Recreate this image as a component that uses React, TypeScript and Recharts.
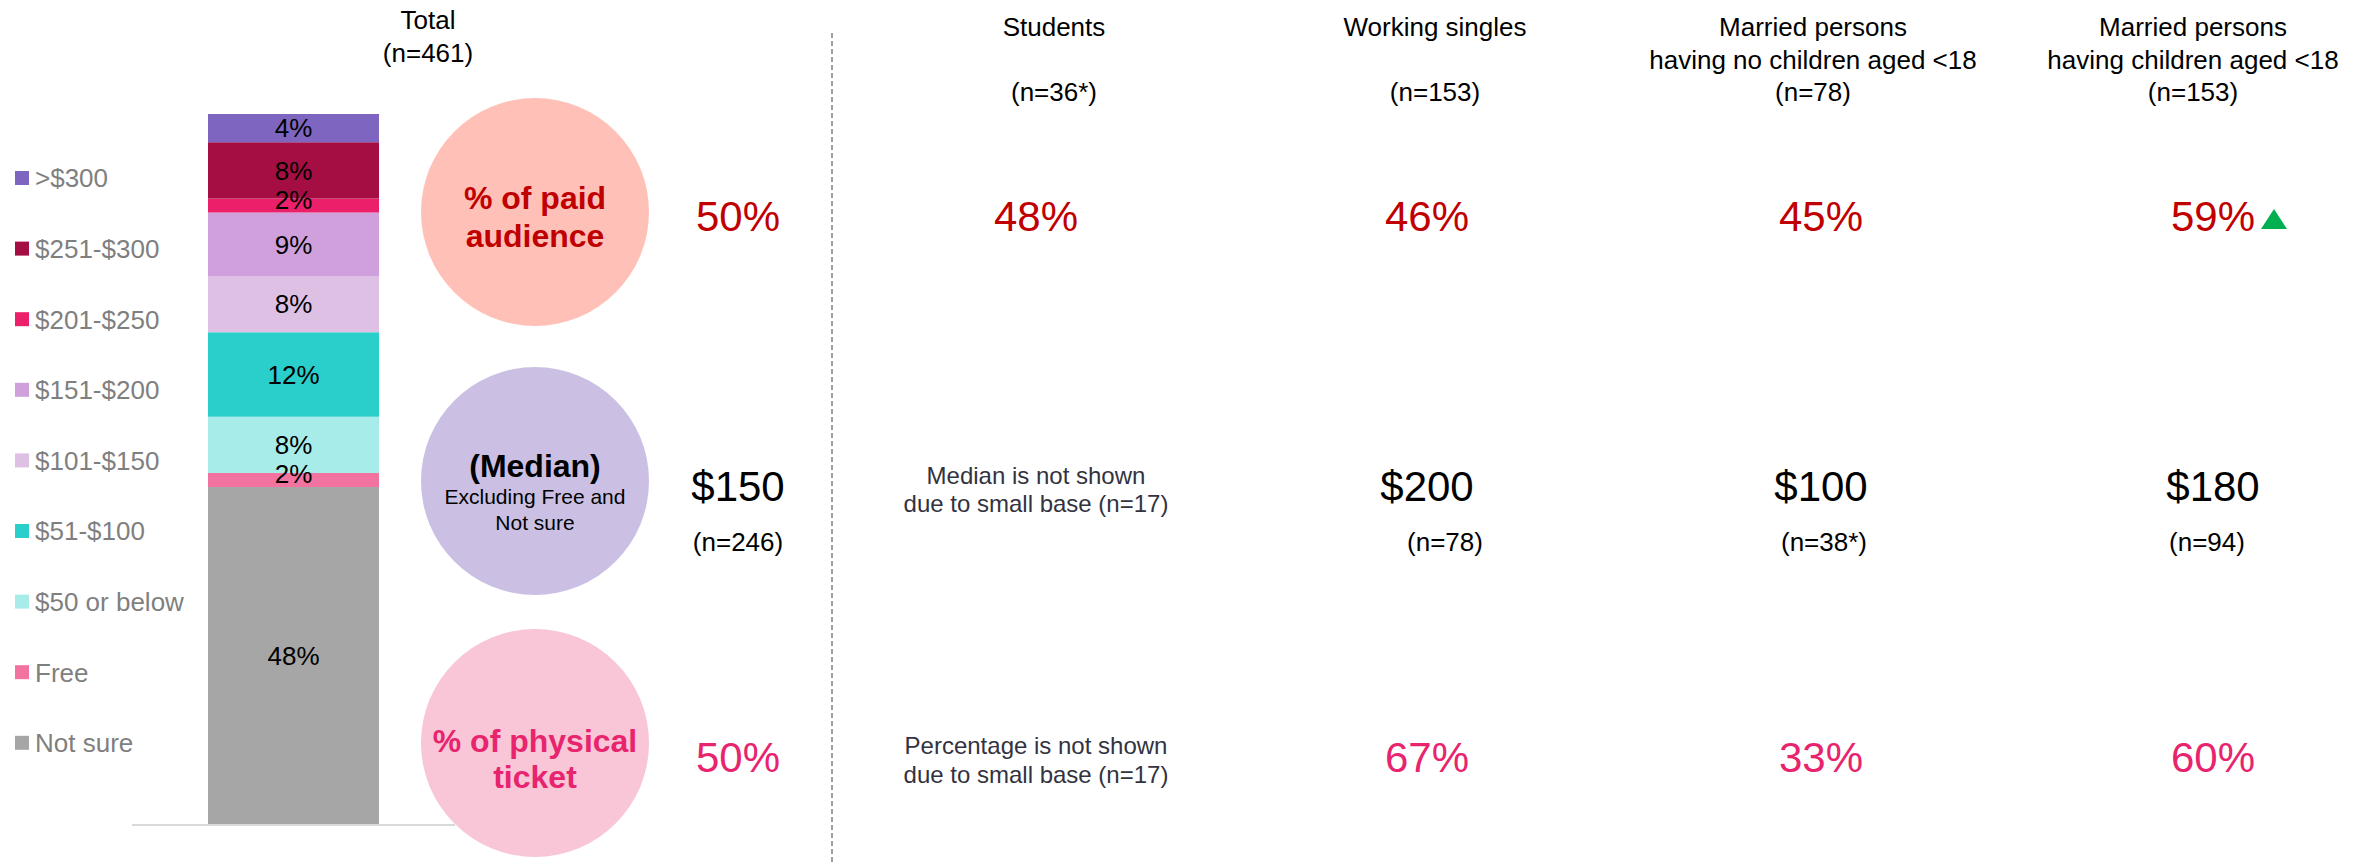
import React from "react";
import { BarChart, Bar, XAxis, YAxis, LabelList, Customized } from "recharts";

// ---------- data ----------
const priceBands = ["Not sure", "Free", "$50 or below", "$51-$100", "$101-$150", "$151-$200", "$201-$250", "$251-$300", ">$300"];
const bandValues = [48, 2, 8, 12, 8, 9, 2, 8, 4];
const bandColors = ["#A6A6A6", "#F272A0", "#A8ECEA", "#2ACECA", "#DFC0E5", "#CFA0DC", "#EC1F6A", "#A50E42", "#7E66C0"];

const totalHeader = ["Total", "(n=461)"];
const groupHeaders = [
  ["Students", "", "(n=36*)"],
  ["Working singles", "", "(n=153)"],
  ["Married persons", "having no children aged <18", "(n=78)"],
  ["Married persons", "having children aged <18", "(n=153)"],
];

const paidShare = [50, 48, 46, 45, 59];
const paidSignificantUp = [false, false, false, false, true];
const medianPrice: (number | null)[] = [150, null, 200, 100, 180];
const medianBase: (string | null)[] = ["(n=246)", null, "(n=78)", "(n=38*)", "(n=94)"];
const physicalShare: (number | null)[] = [50, null, 67, 33, 60];
const medianNote = ["Median is not shown", "due to small base (n=17)"];
const physicalNote = ["Percentage is not shown", "due to small base (n=17)"];

const circleLabels = {
  paid: ["% of paid", "audience"],
  medianTitle: "(Median)",
  medianSub: ["Excluding Free and", "Not sure"],
  physical: ["% of physical", "ticket"],
};

// ---------- styling / layout ----------
const W = 2377;
const H = 863;
const FONT = "'Liberation Sans', Arial, Helvetica, sans-serif";
const RED = "#C00000";
const PINK = "#E8246E";
const colValueX = [738, 1036, 1427, 1821, 2213];
const colHeaderX = [1054, 1435, 1813, 2193];
const colBaseX = [738, null, 1445, 1824, 2207];

const chartData = [
  bandValues.reduce(
    (acc: Record<string, any>, v, i) => {
      acc[priceBands[i]] = v;
      return acc;
    },
    { name: "Total" } as Record<string, any>
  ),
];

type TProps = {
  x: number;
  y: number;
  fs: number;
  fill?: string;
  weight?: string | number;
  anchor?: "start" | "middle" | "end";
  children: React.ReactNode;
};
const T = ({ x, y, fs, fill = "#000", weight = "normal", anchor = "middle", children }: TProps) => (
  <text
    x={x}
    y={y + 0.36 * fs}
    fontSize={fs}
    fill={fill}
    fontWeight={weight}
    textAnchor={anchor}
    fontFamily={FONT}
  >
    {children}
  </text>
);

const BarLabel = (props: any) => {
  const { x, y, width, height, value } = props;
  const dy = value < 3 ? -6 : 0;
  return (
    <T x={x + width / 2} y={y + height / 2 + dy} fs={26}>
      {`${value}%`}
    </T>
  );
};

const Overlay = () => {
  const legendTop = 178;
  const legendStep = 70.6;
  const legendOrder = priceBands.map((_, i) => priceBands.length - 1 - i);
  return (
    <g>
      {/* legend */}
      {legendOrder.map((idx, k) => {
        const cy = legendTop + k * legendStep;
        return (
          <g key={priceBands[idx]}>
            <rect x={15} y={cy - 7} width={14} height={14} fill={bandColors[idx]} />
            <T x={35} y={cy} fs={26} fill="#7F7F7F" anchor="start">
              {priceBands[idx]}
            </T>
          </g>
        );
      })}

      {/* total header */}
      <T x={428} y={20} fs={26}>{totalHeader[0]}</T>
      <T x={428} y={53} fs={26}>{totalHeader[1]}</T>

      {/* circles */}
      <circle cx={535} cy={212} r={114} fill="#FFC0B8" />
      <circle cx={535} cy={481} r={114} fill="#CBC0E4" />
      <circle cx={535} cy={743} r={114} fill="#F8C6D6" />
      <T x={535} y={197} fs={32} weight="bold" fill={RED}>{circleLabels.paid[0]}</T>
      <T x={535} y={235} fs={32} weight="bold" fill={RED}>{circleLabels.paid[1]}</T>
      <T x={535} y={465} fs={32} weight="bold">{circleLabels.medianTitle}</T>
      <T x={535} y={496} fs={21}>{circleLabels.medianSub[0]}</T>
      <T x={535} y={522} fs={21}>{circleLabels.medianSub[1]}</T>
      <T x={535} y={740} fs={32} weight="bold" fill={PINK}>{circleLabels.physical[0]}</T>
      <T x={535} y={776} fs={32} weight="bold" fill={PINK}>{circleLabels.physical[1]}</T>

      {/* divider */}
      <line x1={832} y1={33} x2={832} y2={H} stroke="#606060" strokeWidth={1.2} strokeDasharray="5 3" />

      {/* group headers */}
      {groupHeaders.map((lines, i) =>
        lines.map((ln, j) =>
          ln ? (
            <T key={`h${i}-${j}`} x={colHeaderX[i]} y={27 + j * 32.5} fs={26}>
              {ln}
            </T>
          ) : null
        )
      )}

      {/* paid share row */}
      {paidShare.map((v, i) => (
        <g key={`p${i}`}>
          <T x={colValueX[i]} y={216} fs={42} fill={RED}>{`${v}%`}</T>
          {paidSignificantUp[i] ? (
            <polygon
              points={`${colValueX[i] + 48},229 ${colValueX[i] + 74},229 ${colValueX[i] + 61},209`}
              fill="#00B050"
            />
          ) : null}
        </g>
      ))}

      {/* median row */}
      {medianPrice.map((v, i) =>
        v === null ? (
          <g key={`m${i}`}>
            <T x={colValueX[i]} y={475} fs={24} fill="#333340">{medianNote[0]}</T>
            <T x={colValueX[i]} y={503} fs={24} fill="#333340">{medianNote[1]}</T>
          </g>
        ) : (
          <g key={`m${i}`}>
            <T x={colValueX[i]} y={486} fs={42}>{`$${v}`}</T>
            {medianBase[i] ? (
              <T x={colBaseX[i] as number} y={542} fs={26}>{medianBase[i]}</T>
            ) : null}
          </g>
        )
      )}

      {/* physical ticket row */}
      {physicalShare.map((v, i) =>
        v === null ? (
          <g key={`t${i}`}>
            <T x={colValueX[i]} y={745} fs={24} fill="#333340">{physicalNote[0]}</T>
            <T x={colValueX[i]} y={774} fs={24} fill="#333340">{physicalNote[1]}</T>
          </g>
        ) : (
          <T key={`t${i}`} x={colValueX[i]} y={757} fs={42} fill={PINK}>{`${v}%`}</T>
        )
      )}
    </g>
  );
};

export default function App() {
  return (
    <div style={{ position: "absolute", left: 0, top: 0, width: W, height: H, background: "#fff" }}>
      <BarChart
        width={W}
        height={H}
        data={chartData}
        margin={{ top: 114, right: W - 455, bottom: H - 830, left: 132 }}
        barCategoryGap={76}
      >
        <XAxis
          dataKey="name"
          height={5}
          tick={false}
          tickLine={false}
          axisLine={{ stroke: "#D9D9D9", strokeWidth: 2 }}
        />
        <YAxis hide domain={[0, 101]} />
        {priceBands.map((b, i) => (
          <Bar key={b} dataKey={b} stackId="a" fill={bandColors[i]} isAnimationActive={false}>
            <LabelList dataKey={b} content={<BarLabel />} />
          </Bar>
        ))}
        <Customized component={Overlay} />
      </BarChart>
    </div>
  );
}
